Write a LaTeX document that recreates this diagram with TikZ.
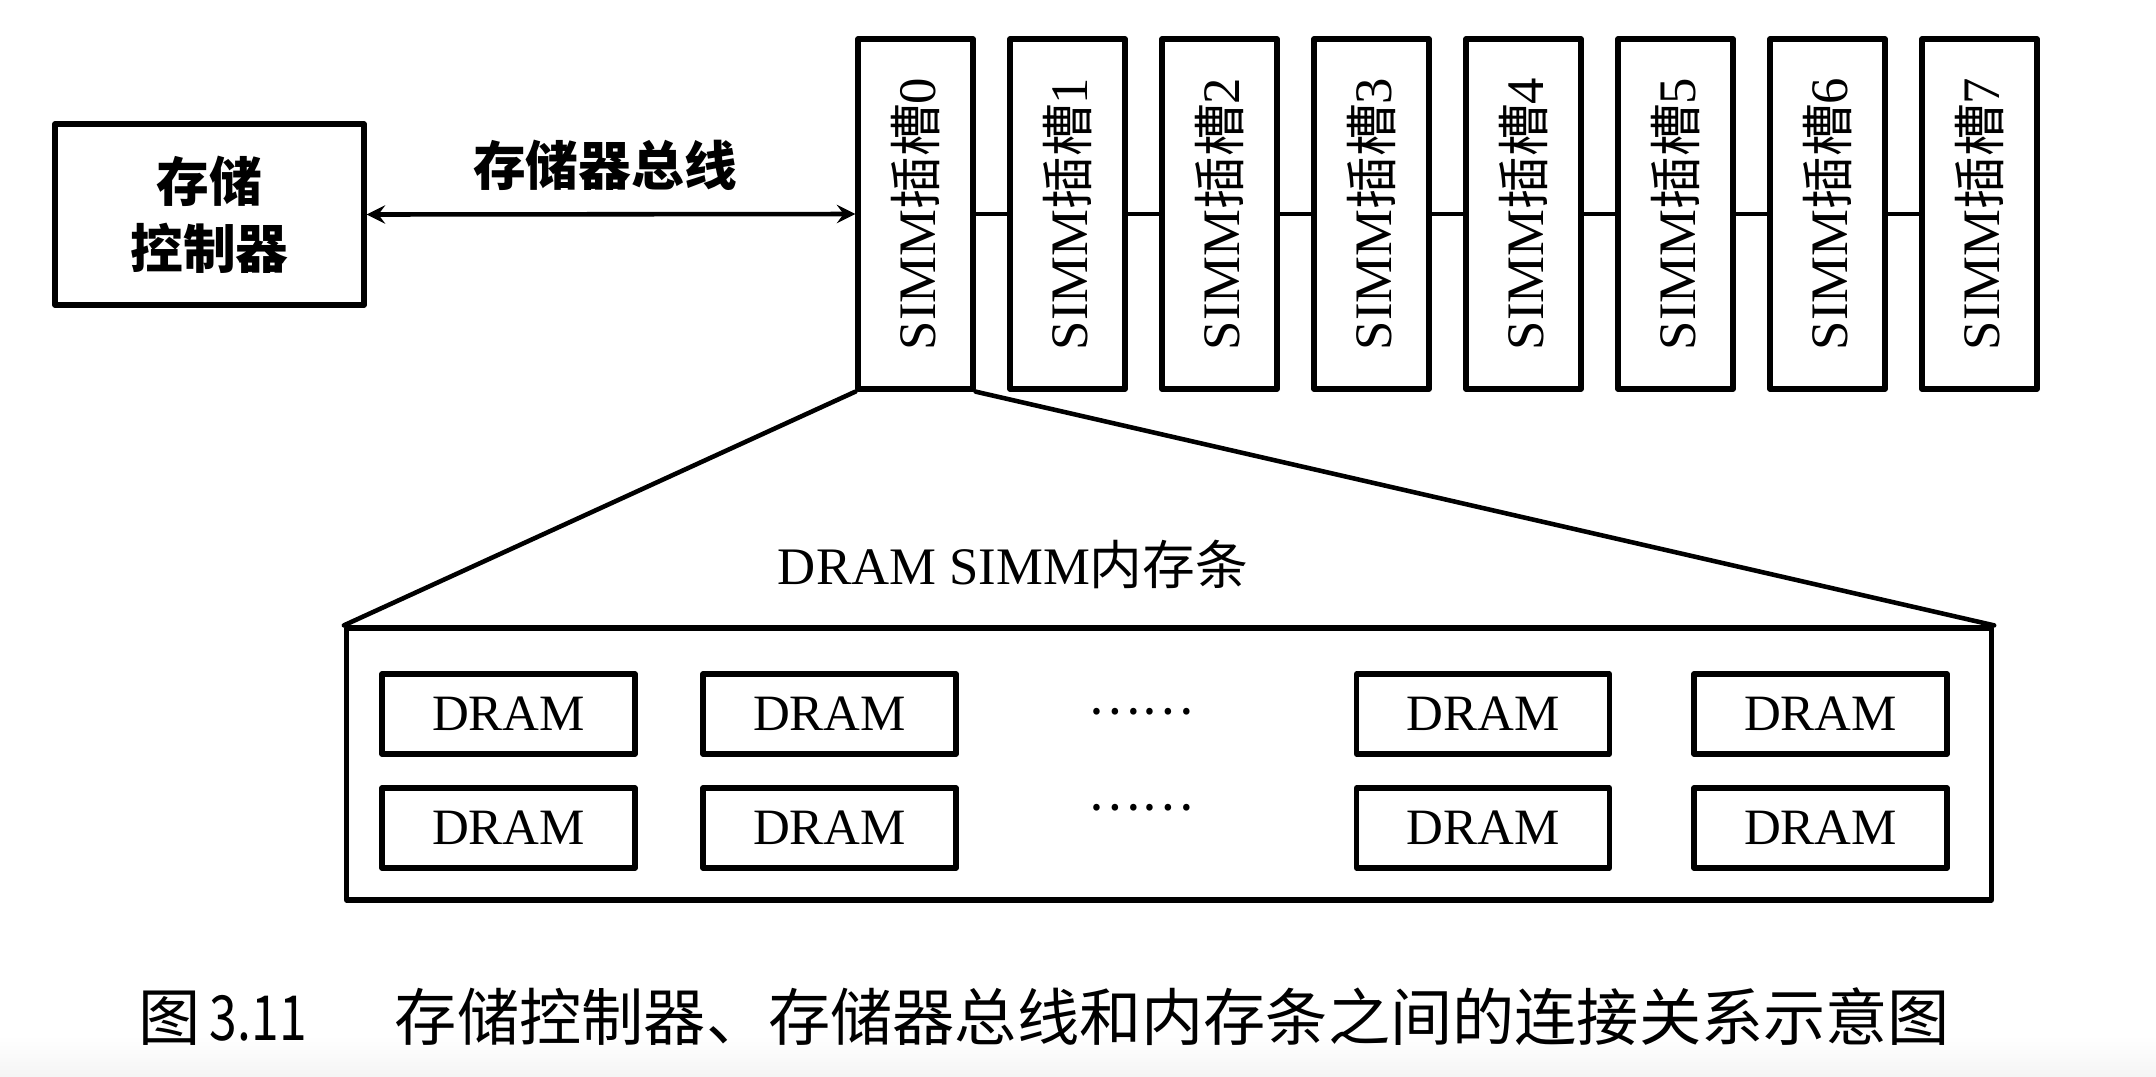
\documentclass[tikz,border=0pt]{standalone}
\usepackage{fontspec}
\usepackage{graphicx}
\setmainfont{Liberation Serif}
\newfontfamily\cjk{Noto Sans CJK SC}
\usetikzlibrary{positioning}

\begin{document}
\begin{tikzpicture}[>=stealth, line cap=round, line join=round,
    box/.style={draw, line width=1.5pt, inner sep=0pt},
    slotbox/.style={box, minimum width=1.15cm, minimum height=3.5cm},
    drambox/.style={box, minimum width=2.53cm, minimum height=0.8cm, font=\fontsize{14.5}{15}\selectfont},
    cjktext/.style={font=\cjk\bfseries\fontsize{15}{19}\selectfont, align=center}]
  \useasboundingbox (0,0) rectangle (21.56,-10.76);
  \shade[top color=white, bottom color=gray!8] (0,-10.35) rectangle (21.56,-10.76);

  % Controller
  \node[box, cjktext, minimum width=3.09cm, minimum height=1.81cm] (ctrl) at (2.095,-2.145) {存储\\控制器};

  % SIMM slots
  \foreach \i in {0,...,7} {
    \node[slotbox] (slot\i) at ({9.155+1.52*\i}, -2.14) {};
    \node[rotate=90, font=\fontsize{15}{15}\selectfont] (slotlabel\i) at (slot\i) {SIMM{\cjk 插槽}\i};
  }
  \foreach \i [evaluate=\i as \j using int(\i+1)] in {0,...,6}
    \draw[line width=1pt] (slot\i.east) -- (slot\j.west);

  % Memory bus
  \draw[<->, line width=1.3pt] (ctrl.east) -- (slot0.west);
  \node[cjktext] (buslabel) at (6.05,-1.65) {存储器总线};

  % SIMM module
  \node[box, minimum width=16.45cm, minimum height=2.72cm] (simm) at (11.69,-7.64) {};
  \draw[line width=1.3pt] (slot0.south west) -- (simm.north west);
  \draw[line width=1.3pt] (slot0.south east) -- (simm.north east);
  \node[font=\fontsize{15}{15}\selectfont] (simmlabel) at (10.13,-5.64) {DRAM SIMM{\cjk 内存条}};

  % DRAM chips
  \foreach \r/\y in {1/-7.14, 2/-8.28}
    \foreach \c/\x in {1/5.085, 2/8.295, 3/14.83, 4/18.205}
      \node[drambox] (dram\r\c) at (\x, \y) {DRAM};
  \node[font=\cjk\fontsize{14}{14}\selectfont] (dotsa) at (11.41,-7.12) {……};
  \node[font=\cjk\fontsize{14}{14}\selectfont] (dotsb) at (11.41,-8.08) {……};

  % Caption
  \node[anchor=west, font=\cjk\fontsize{17.7}{20}\selectfont] (caption) at (1.26,-10.17)
    {图\hspace{0.15em}\scalebox{0.8}[1]{3.11}\hspace{1.42em}存储控制器、存储器总线和内存条之间的连接关系示意图};
\end{tikzpicture}
\end{document}
